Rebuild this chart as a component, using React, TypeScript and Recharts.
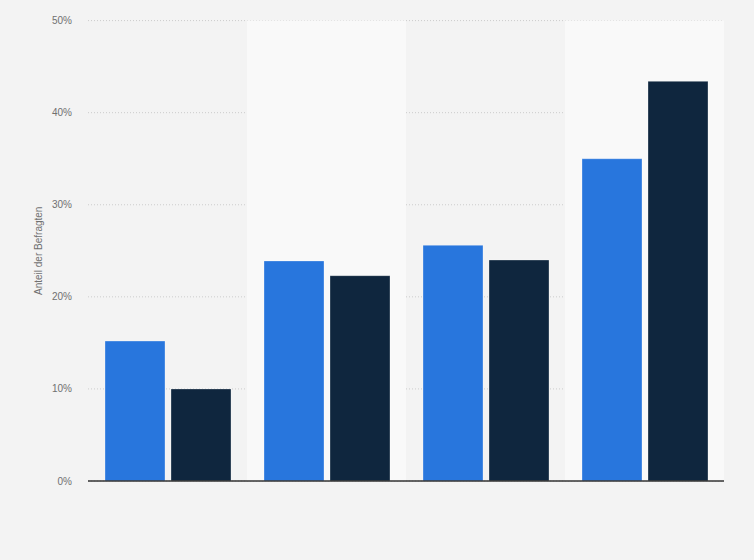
import React from 'react';
import { BarChart, Bar, XAxis, YAxis, CartesianGrid, ReferenceArea, ReferenceLine } from 'recharts';

const categories = ['A', 'B', 'C', 'D'];
const seriesBlue = [15.2, 23.9, 25.6, 35.0];
const seriesDark = [10.0, 22.3, 24.0, 43.4];
const yTicks = [0, 10, 20, 30, 40, 50];
const shadedCategories = ['B', 'D'];

const data = categories.map((c, i) => ({ name: c, blue: seriesBlue[i], dark: seriesDark[i] }));

const font = '"Liberation Sans", Arial, sans-serif';

export default function App() {
  return (
    <div style={{ position: 'absolute', left: 0, top: 0, width: 754, height: 560, background: '#f3f3f3' }}>
      <BarChart
        width={754}
        height={560}
        data={data}
        margin={{ top: 20.6, right: 30, bottom: 79, left: 0 }}
        barGap={6}
        barSize={60}
      >
        {shadedCategories.map((c) => (
          <ReferenceArea key={c} x1={c} x2={c} fill="#f9f9f9" fillOpacity={1} stroke="none" ifOverflow="visible" />
        ))}
        <CartesianGrid vertical={false} stroke="#cccccc" strokeDasharray="1 2" />
        <XAxis dataKey="name" height={0} tick={false} tickLine={false} axisLine={false} />
        <YAxis
          width={88}
          domain={[0, 50]}
          ticks={yTicks}
          tickFormatter={(v) => `${v}%`}
          axisLine={false}
          tickLine={false}
          tickMargin={10}
          tick={{ fill: '#707070', fontSize: 10, fontFamily: font }}
          label={{
            value: 'Anteil der Befragten',
            angle: -90,
            position: 'insideLeft',
            offset: 38,
            style: { textAnchor: 'middle', fill: '#707070', fontSize: 10, fontFamily: font },
          }}
        />
        <Bar dataKey="blue" fill="#2876dd" stroke="rgba(255,255,255,0.3)" strokeWidth={1} isAnimationActive={false} />
        <Bar dataKey="dark" fill="#0f263e" stroke="rgba(255,255,255,0.3)" strokeWidth={1} isAnimationActive={false} />
        <ReferenceLine y={0} stroke="#333333" strokeWidth={1.5} ifOverflow="visible" />
      </BarChart>
    </div>
  );
}
